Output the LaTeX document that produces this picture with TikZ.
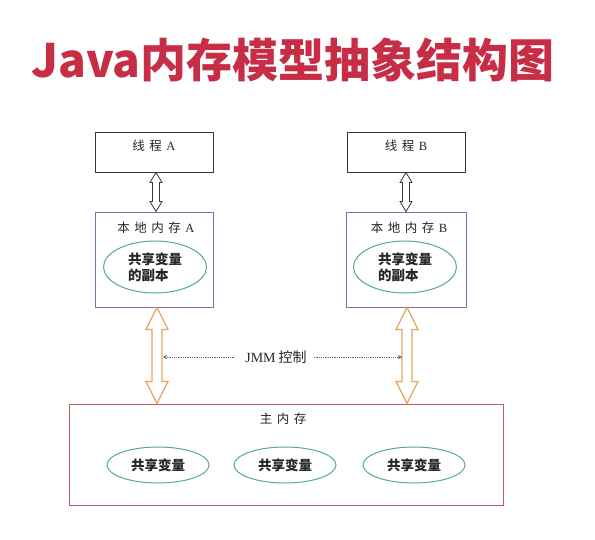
\documentclass[tikz,border=0pt]{standalone}
\usepackage{fontspec}
\setmainfont{Noto Sans CJK SC}
\newfontfamily\latinserif{Liberation Serif}
\usetikzlibrary{calc,shapes.geometric,arrows.meta}
\definecolor{titlered}{RGB}{200,45,70}
\definecolor{lpurple}{RGB}{140,105,170}
\definecolor{egreen}{RGB}{80,175,135}
\definecolor{aorange}{RGB}{230,165,95}
\definecolor{mainred}{RGB}{195,90,95}
\definecolor{boxgray}{RGB}{55,55,55}
\newcommand\dblarr[6]{%
  \draw[#6] let \p1=(#1), \p2=(#2) in
   (\x1,\y1) -- (\x1+#4pt,\y1-#5pt) -- (\x1+#3pt,\y1-#5pt) -- (\x1+#3pt,\y2+#5pt)
   -- (\x1+#4pt,\y2+#5pt) -- (\x1,\y2) -- (\x1-#4pt,\y2+#5pt) -- (\x1-#3pt,\y2+#5pt)
   -- (\x1-#3pt,\y1-#5pt) -- (\x1-#4pt,\y1-#5pt) -- cycle;}
\newcommand\chgap{\hspace{4.5pt}}
\tikzset{
  tbox/.style={draw=boxgray, line width=1pt, minimum width=118pt, minimum height=40pt, inner sep=0pt},
  lbox/.style={draw=lpurple, line width=1pt, minimum height=95pt, inner sep=0pt},
  mbox/.style={draw=mainred, line width=1pt, minimum width=434pt, minimum height=101pt, inner sep=0pt},
  lbl/.style={font=\fontsize{12.5}{14}\selectfont, text=black!85, inner sep=1pt},
  evar/.style={ellipse, draw=egreen, line width=1pt, inner sep=0pt, font=\fontsize{13.5}{16}\selectfont\bfseries, text=black!85},
  jarr/.style={densely dotted, draw=black!60, line width=0.8pt, -{Stealth[length=4pt,width=4pt]}},
  thinarr/.style={draw=boxgray, line width=0.8pt, fill=white},
  orarr/.style={draw=aorange, line width=1.2pt, fill=white}
}
\begin{document}
\begin{tikzpicture}[x=1pt,y=-1pt]
\useasboundingbox[fill=white] (0,0) rectangle (595,539);
\node[font=\fontsize{46}{50}\selectfont\bfseries, text=titlered] (title) at (293,60) {Java内存模型抽象结构图};
% threads
\node[tbox] (ta) at (154,152) {};
\node[lbl] (tal) at (154,146) {线\chgap 程\chgap {\latinserif A}};
\node[tbox] (tb) at (406,152) {};
\node[lbl] (tbl) at (406,146) {线\chgap 程\chgap {\latinserif B}};
% local memories
\node[lbox, minimum width=118pt] (la) at (154,259.5) {};
\node[lbl] (lal) at (156,228) {本\chgap 地\chgap 内\chgap 存\chgap {\latinserif A}};
\node[evar, minimum width=103pt, minimum height=52pt, align=left] (ea) at (155,267) {共享变量\\的副本};
\node[lbox, minimum width=120pt] (lb) at (406,259.5) {};
\node[lbl] (lbl) at (409,228) {本\chgap 地\chgap 内\chgap 存\chgap {\latinserif B}};
\node[evar, minimum width=103pt, minimum height=52pt, align=left] (eb) at (405,267) {共享变量\\的副本};
% main memory
\node[mbox] (mm) at (286,454.5) {};
\node[lbl] (mml) at (283,419) {主\chgap 内\chgap 存};
\node[evar, minimum width=102pt, minimum height=36pt] (v1) at (158,465) {共享变量};
\node[evar, minimum width=102pt, minimum height=36pt] (v2) at (285,465) {共享变量};
\node[evar, minimum width=102pt, minimum height=36pt] (v3) at (414,465) {共享变量};
% thread <-> local arrows
\coordinate (at1) at (156,172.5);
\coordinate (ab1) at (156,211.5);
\coordinate (bt1) at (406,172.5);
\coordinate (bb1) at (406,211.5);
\dblarr{at1}{ab1}{3.5}{6}{10}{thinarr}
\dblarr{bt1}{bb1}{3.5}{6}{10}{thinarr}
% local <-> main arrows
\coordinate (at2) at (157,307.5);
\coordinate (ab2) at (157,403.5);
\coordinate (bt2) at (407,307.5);
\coordinate (bb2) at (407,403.5);
\dblarr{at2}{ab2}{5}{11}{22}{orarr}
\dblarr{bt2}{bb2}{5}{11}{22}{orarr}
% JMM control
\node[lbl, font=\fontsize{14}{16}\selectfont] (jmm) at (276,357) {{\latinserif JMM}\hspace{3pt}控制};
\coordinate (jl) at (163,357);
\coordinate (jr) at (402,357);
\draw[jarr] (jmm.west) ++(-10,0) -- (jl);
\draw[jarr] (jmm.east) ++(6,0) -- (jr);
\end{tikzpicture}
\end{document}
